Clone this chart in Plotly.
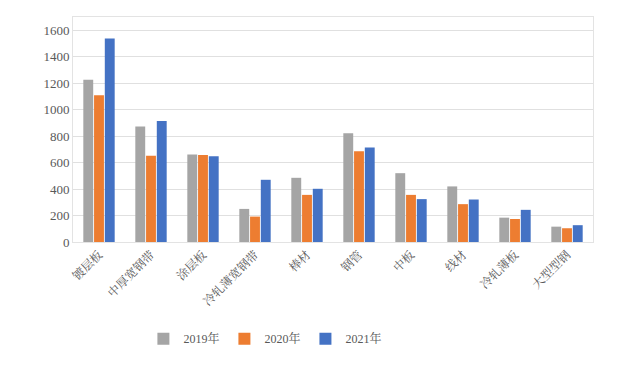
import plotly.graph_objects as go

categories = ["镀层板", "中厚宽钢带", "涂层板", "冷轧薄宽钢带", "棒材", "钢管", "中板", "线材", "冷轧薄板", "大型型钢"]
v2019 = [1225, 872, 662, 250, 485, 822, 520, 420, 184, 116]
v2020 = [1108, 652, 658, 192, 356, 685, 356, 286, 174, 104]
v2021 = [1538, 914, 647, 470, 402, 714, 324, 321, 243, 127]
series_names = ["2019年", "2020年", "2021年"]
colors = ["#A5A5A5", "#ED7D31", "#4472C4"]

fig = go.Figure()
for name, vals, c in zip(series_names, [v2019, v2020, v2021], colors):
    fig.add_trace(go.Bar(x=categories, y=vals, name=name, marker=dict(color=c, line=dict(width=0))))

font_family = "Liberation Serif, Noto Serif CJK SC, Noto Sans CJK SC, serif"
fig.update_layout(
    width=640, height=365,
    margin=dict(l=65, r=55, t=9, b=131, autoexpand=False),
    paper_bgcolor="white", plot_bgcolor="white",
    barmode="group", bargap=0.38, bargroupgap=0.08,
    font=dict(family=font_family, color="#595959", size=12),
    showlegend=True,
    legend=dict(orientation="h", x=0.37, xanchor="center", y=-0.43, yanchor="middle",
                font=dict(size=12, color="#595959"), itemwidth=30, traceorder="normal"),
)
fig.update_xaxes(tickangle=-45, tickfont=dict(size=12), showline=True, linecolor="#E3E3E3",
                 mirror=True, ticks="", showgrid=False, automargin=False)
fig.update_yaxes(range=[0, 1700], tickvals=[0, 200, 400, 600, 800, 1000, 1200, 1400, 1600],
                 tickfont=dict(size=13), showgrid=True, gridcolor="#E0E0E0", gridwidth=1,
                 showline=True, linecolor="#E3E3E3", mirror=True, zeroline=False, ticks="",
                 automargin=False)

fig.write_html("out.html")
